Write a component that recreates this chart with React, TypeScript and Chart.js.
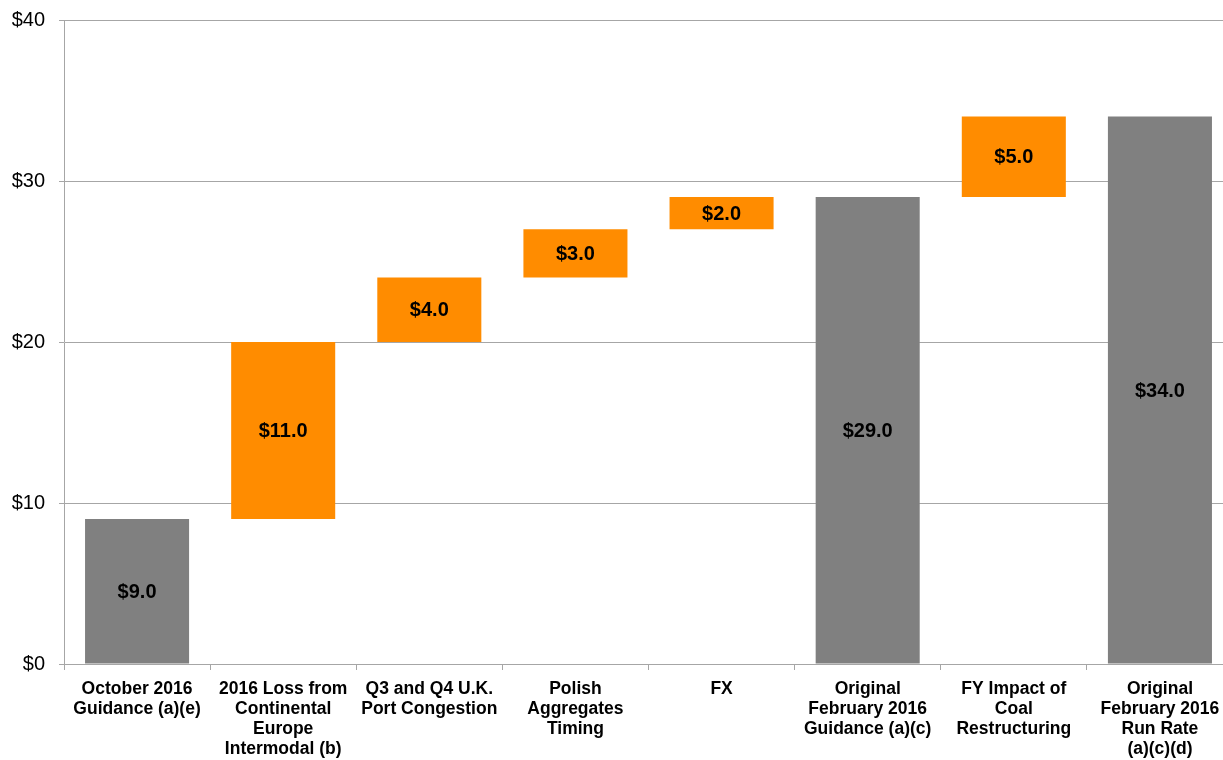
import React, { useEffect, useRef } from "react";
import { Chart, registerables } from "chart.js";

Chart.register(...registerables);

const categories: string[][] = [
  ["October 2016", "Guidance (a)(e)"],
  ["2016 Loss from", "Continental", "Europe", "Intermodal (b)"],
  ["Q3 and Q4 U.K.", "Port Congestion"],
  ["Polish", "Aggregates", "Timing"],
  ["FX"],
  ["Original", "February 2016", "Guidance (a)(c)"],
  ["FY Impact of", "Coal", "Restructuring"],
  ["Original", "February 2016", "Run Rate", "(a)(c)(d)"],
];
const barStarts: number[] = [0, 9, 20, 24, 27, 0, 29, 0];
const barAmounts: number[] = [9, 11, 4, 3, 2, 29, 5, 34];
const isTotal: boolean[] = [true, false, false, false, false, true, false, true];
const yTicks: number[] = [0, 10, 20, 30, 40];

const GRAY = "#808080";
const ORANGE = "#FF8C00";
const FONT = "'Liberation Sans', Arial, sans-serif";

const labelPlugin = {
  id: "barLabels",
  afterDatasetsDraw(chart: any) {
    const ctx = chart.ctx;
    const meta = chart.getDatasetMeta(0);
    ctx.save();
    ctx.font = `bold 20px ${FONT}`;
    ctx.fillStyle = "#000";
    ctx.textAlign = "center";
    ctx.textBaseline = "middle";
    meta.data.forEach((bar: any, i: number) => {
      const { x, y, base } = bar.getProps(["x", "y", "base"], true);
      ctx.fillText(`$${barAmounts[i].toFixed(1)}`, x, (y + base) / 2 + 1);
    });
    ctx.restore();
  },
};

export default function App() {
  const ref = useRef<HTMLCanvasElement | null>(null);
  useEffect(() => {
    if (!ref.current) return;
    const chart = new Chart(ref.current, {
      type: "bar",
      data: {
        labels: categories,
        datasets: [
          {
            data: barStarts.map((s, i) => [s, s + barAmounts[i]]),
            backgroundColor: isTotal.map((t) => (t ? GRAY : ORANGE)),
            borderWidth: 0,
            categoryPercentage: 1,
            barPercentage: 0.712,
          },
        ],
      },
      options: {
        responsive: false,
        animation: false,
        maintainAspectRatio: false,
        layout: { padding: { top: 20, right: 1, left: 0, bottom: 0 } },
        plugins: { legend: { display: false }, tooltip: { enabled: false } },
        scales: {
          x: {
            offset: true,
            grid: {
              offset: true,
              drawOnChartArea: false,
              drawTicks: true,
              tickLength: 6,
              color: "#A6A6A6",
              lineWidth: 1,
            },
            border: { color: "#A6A6A6", width: 1 },
            ticks: {
              autoSkip: false,
              maxRotation: 0,
              minRotation: 0,
              color: "#000",
              padding: 9,
              font: { family: FONT, size: 17.5, weight: "bold", lineHeight: 1.15 },
            },
            afterFit(scale: any) {
              scale.height = 96;
              scale.paddingLeft = 0;
              scale.paddingRight = 0;
            },
          },
          y: {
            min: 0,
            max: 40,
            afterBuildTicks(scale: any) {
              scale.ticks = yTicks.map((v) => ({ value: v }));
            },
            grid: { color: "#A6A6A6", lineWidth: 1, tickLength: 5 },
            border: { color: "#A6A6A6", width: 1 },
            ticks: {
              color: "#000",
              padding: 14,
              font: { family: FONT, size: 20 },
              callback: (v: any) => `$${v}`,
            },
            afterFit(scale: any) {
              scale.width = 64;
              scale.paddingTop = 0;
              scale.paddingBottom = 0;
            },
          },
        },
      },
      plugins: [labelPlugin],
    });
    return () => chart.destroy();
  }, []);
  return (
    <div
      style={{
        position: "fixed",
        left: 0,
        top: 0,
        width: 1223,
        height: 760,
        overflow: "hidden",
        background: "#fff",
      }}
    >
      <canvas ref={ref} width={1234} height={760} style={{ display: "block" }} />
    </div>
  );
}
